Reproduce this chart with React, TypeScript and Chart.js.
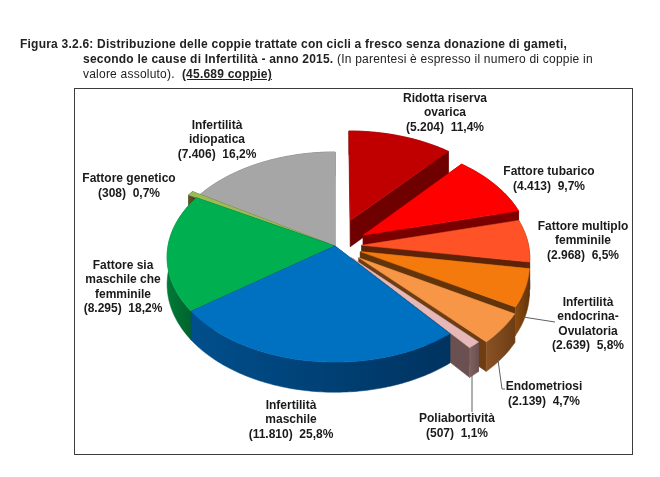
import React, { useEffect, useRef } from "react";
import { Chart, registerables } from "chart.js";

Chart.register(...registerables);

const categories = [
  "Ridotta riserva ovarica",
  "Fattore tubarico",
  "Fattore multiplo femminile",
  "Infertilità endocrina-Ovulatoria",
  "Endometriosi",
  "Poliabortività",
  "Infertilità maschile",
  "Fattore sia maschile che femminile",
  "Fattore genetico",
  "Infertilità idiopatica",
];
const couples = [5204, 4413, 2968, 2639, 2139, 507, 11810, 8295, 308, 7406];
const topColors = ["#C00000", "#FF0000", "#FF5327", "#F47A0E", "#F79646", "#E6B8B7", "#0070C0", "#00B050", "#9BBB59", "#A6A6A6"];
const wallLight = ["#8A0000", "#A00000", "#7A3012", "#8A4A10", "#8A5224", "#80625F", "#004F8C", "#007A38", "#5C5A2A", "#6A6A6A"];
const wallDark = ["#6E0000", "#7A0000", "#5E2208", "#63340A", "#6E3D14", "#6A5050", "#003360", "#005E2A", "#4C4A20", "#555555"];
const explode = [0.27, 0.2, 0.16, 0.16, 0.18, 0.15, 0, 0, 0.06, 0];

const labelLines = [
  ["Ridotta riserva", "ovarica", "(5.204)  11,4%"],
  ["Fattore tubarico", "(4.413)  9,7%"],
  ["Fattore multiplo", "femminile", "(2.968)  6,5%"],
  ["Infertilità", "endocrina-", "Ovulatoria", "(2.639)  5,8%"],
  ["Endometriosi", "(2.139)  4,7%"],
  ["Poliabortività", "(507)  1,1%"],
  ["Infertilità", "maschile", "(11.810)  25,8%"],
  ["Fattore sia", "maschile che", "femminile", "(8.295)  18,2%"],
  ["Fattore genetico", "(308)  0,7%"],
  ["Infertilità", "idiopatica", "(7.406)  16,2%"],
];
const labelCenters = [
  [445, 113], [549, 179], [583, 241], [588, 324], [544, 394], [457, 426], [291, 420], [123, 287], [129, 186], [217, 140],
];
const leaders = [
  [[523, 317], [555, 322]],
  [[498, 360], [502, 389], [505, 389]],
  [[472, 375], [472, 412]],
];

const CX = 335, CY = 246, A = 167, B = 103.9, K = 0.105, D = 27;
const proj = (X: number, Y: number, z: number) => {
  const s = 1 / (1 + K * Y);
  return [CX + A * X * s, CY - B * Y * s + z * D * s];
};

const pie3d = {
  id: "pie3d",
  beforeDraw(chart: any) {
    const c = chart.ctx;
    c.save();
    c.fillStyle = "#fff";
    c.fillRect(0, 0, chart.width, chart.height);
    c.strokeStyle = "#3c3c3c";
    c.lineWidth = 1;
    c.strokeRect(74.5, 88.5, 558, 366);
    c.restore();
  },
  beforeDatasetDraw(chart: any) {
    const c = chart.ctx;
    const arcs = chart.getDatasetMeta(0).data;
    const order = arcs
      .map((el: any, i: number) => {
        const mid = (el.startAngle + el.endAngle) / 2;
        return { el, i, depth: -Math.sin(mid) * (0.6 + explode[i]) };
      })
      .sort((p: any, q: any) => q.depth - p.depth);
    const poly = (pts: number[][], fill: any) => {
      c.beginPath();
      pts.forEach((p, j) => (j ? c.lineTo(p[0], p[1]) : c.moveTo(p[0], p[1])));
      c.closePath();
      c.fillStyle = fill;
      c.strokeStyle = fill;
      c.lineWidth = 0.5;
      c.fill();
      c.stroke();
    };
    c.save();
    c.lineJoin = "round";
    for (const { el, i } of order) {
      const mid = (el.startAngle + el.endAngle) / 2;
      const ox = Math.cos(mid) * explode[i];
      const oy = -Math.sin(mid) * explode[i];
      const rim: number[][] = [];
      const n = Math.max(2, Math.ceil(((el.endAngle - el.startAngle) * 180) / Math.PI));
      for (let j = 0; j <= n; j++) {
        const a = el.startAngle + ((el.endAngle - el.startAngle) * j) / n;
        rim.push([ox + Math.cos(a), oy - Math.sin(a)]);
      }
      const top = [proj(ox, oy, 0), ...rim.map((p) => proj(p[0], p[1], 0))];
      const bot = [proj(ox, oy, 1), ...rim.map((p) => proj(p[0], p[1], 1))];
      const last = rim.length;
      poly([top[0], top[1], bot[1], bot[0]], wallDark[i]);
      poly([top[0], top[last], bot[last], bot[0]], wallDark[i]);
      const xs = top.slice(1).map((p) => p[0]);
      const grad = c.createLinearGradient(Math.min(...xs), 0, Math.max(...xs), 0);
      grad.addColorStop(0, wallLight[i]);
      grad.addColorStop(1, wallDark[i]);
      poly([...top.slice(1), ...bot.slice(1).reverse()], grad);
      poly(top, topColors[i]);
    }
    c.restore();
    return false;
  },
  afterDatasetsDraw(chart: any) {
    const c = chart.ctx;
    c.save();
    c.strokeStyle = "#606060";
    c.lineWidth = 1;
    leaders.forEach((pts) => {
      c.beginPath();
      pts.forEach((p, j) => (j ? c.lineTo(p[0], p[1]) : c.moveTo(p[0], p[1])));
      c.stroke();
    });
    c.fillStyle = "#1a1a1a";
    c.font = "bold 12px 'Liberation Sans'";
    c.textAlign = "center";
    c.textBaseline = "middle";
    labelLines.forEach((lines, i) => {
      const [x, y] = labelCenters[i];
      const h = 14.4;
      lines.forEach((t, j) => c.fillText(t, x, y + (j - (lines.length - 1) / 2) * h));
    });
    c.restore();
  },
};

export default function App() {
  const ref = useRef<HTMLCanvasElement>(null);
  useEffect(() => {
    document.body.style.margin = "0";
    const chart = new Chart(ref.current!, {
      type: "pie",
      data: { labels: categories, datasets: [{ data: couples, backgroundColor: topColors }] },
      options: {
        responsive: false,
        animation: false,
        events: [],
        plugins: { legend: { display: false }, tooltip: { enabled: false } },
      },
      plugins: [pie3d],
    });
    return () => chart.destroy();
  }, []);
  const base: React.CSSProperties = {
    position: "absolute",
    whiteSpace: "nowrap",
    font: "12px 'Liberation Sans'",
    letterSpacing: "0.22px",
    color: "#222",
    lineHeight: "15px",
  };
  return (
    <div style={{ position: "relative", width: 660, height: 477 }}>
      <canvas ref={ref} width={660} height={477} style={{ display: "block" }} />
      <div style={{ ...base, left: 20, top: 37, fontWeight: 700 }}>
        Figura 3.2.6: Distribuzione delle coppie trattate con cicli a fresco senza donazione di gameti,
      </div>
      <div style={{ ...base, left: 83, top: 52 }}>
        <b>secondo le cause di Infertilità - anno 2015.</b> (In parentesi è espresso il numero di coppie in
      </div>
      <div style={{ ...base, left: 83, top: 67 }}>
        valore assoluto).&nbsp; <b style={{ textDecoration: "underline" }}>(45.689 coppie)</b>
      </div>
    </div>
  );
}
